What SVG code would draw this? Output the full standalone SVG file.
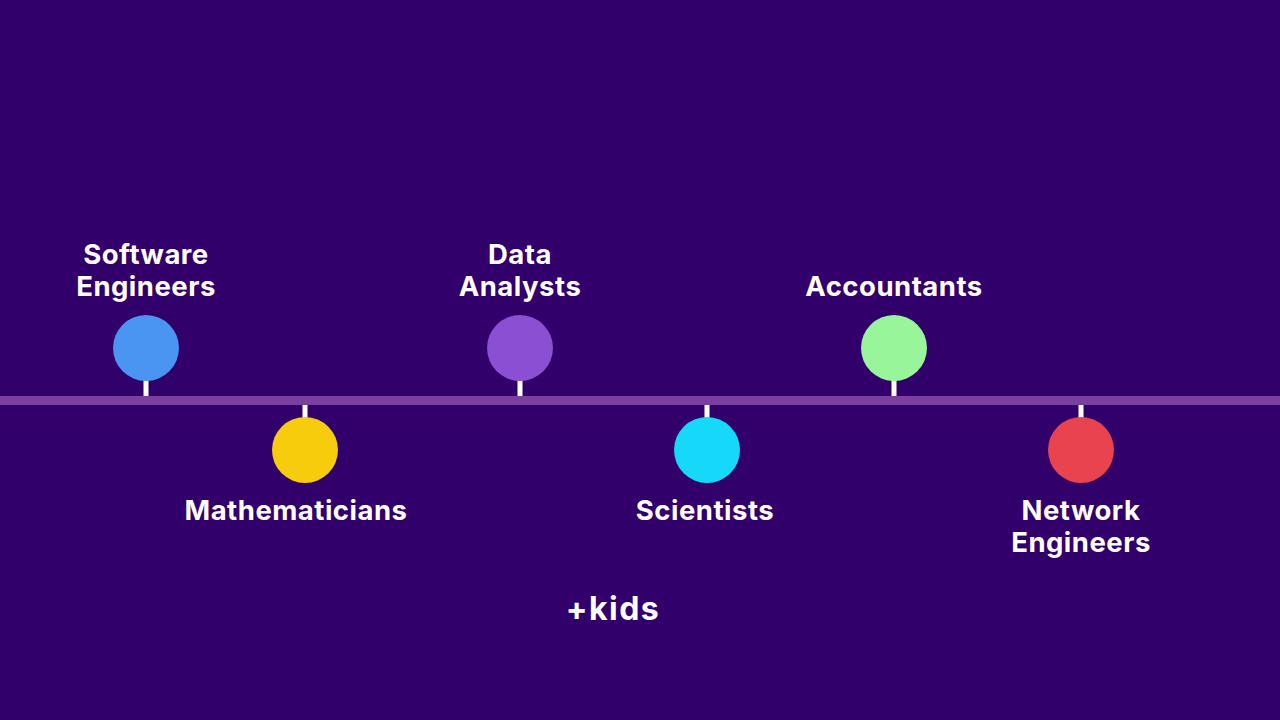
<svg xmlns="http://www.w3.org/2000/svg" width="1280" height="720" viewBox="0 0 1280 720">
  <style>
    .lbl { font-family: Inter, "Noto Sans", "Liberation Sans", sans-serif; font-weight: 700; font-size: 27.5px; letter-spacing: 0.5px; fill: #ffffff; text-anchor: middle; }
    .kids { font-family: Inter, "Noto Sans", "Liberation Sans", sans-serif; font-weight: 700; font-size: 32px; letter-spacing: 1.5px; fill: #ffffff; text-anchor: middle; }
    .stem { fill: #ffffff; }
  </style>
  <rect width="1280" height="720" fill="#32006a"/>

  <g id="connectors">
    <!-- main timeline bar -->
    <rect x="0" y="396" width="1280" height="9" fill="#7a40a0"/>
    <!-- stems from markers to bar -->
    <rect class="stem" x="143.5" y="380" width="5" height="16"/>
    <rect class="stem" x="517.5" y="380" width="5" height="16"/>
    <rect class="stem" x="891.5" y="380" width="5" height="16"/>
    <rect class="stem" x="302.5" y="405" width="5" height="14"/>
    <rect class="stem" x="704.5" y="405" width="5" height="14"/>
    <rect class="stem" x="1078.5" y="405" width="5" height="14"/>
  </g>

  <g id="software-engineers">
    <circle cx="146" cy="348" r="33" fill="#4a94f2"/>
    <text class="lbl" x="146" y="264">Software</text>
    <text class="lbl" x="146" y="296">Engineers</text>
  </g>

  <g id="mathematicians">
    <circle cx="305" cy="450" r="33" fill="#f6cc0c"/>
    <text class="lbl" x="296" y="520">Mathematicians</text>
  </g>

  <g id="data-analysts">
    <circle cx="520" cy="348" r="33" fill="#8a4fd2"/>
    <text class="lbl" x="520" y="264">Data</text>
    <text class="lbl" x="520" y="296">Analysts</text>
  </g>

  <g id="scientists">
    <circle cx="707" cy="450" r="33" fill="#16d8f8"/>
    <text class="lbl" x="705" y="520">Scientists</text>
  </g>

  <g id="accountants">
    <circle cx="894" cy="348" r="33" fill="#98f59a"/>
    <text class="lbl" x="894" y="296">Accountants</text>
  </g>

  <g id="network-engineers">
    <circle cx="1081" cy="450" r="33" fill="#e8434f"/>
    <text class="lbl" x="1081" y="520">Network</text>
    <text class="lbl" x="1081" y="552">Engineers</text>
  </g>

  <g id="kids">
    <text class="kids" x="613" y="620">+kids</text>
  </g>
</svg>
